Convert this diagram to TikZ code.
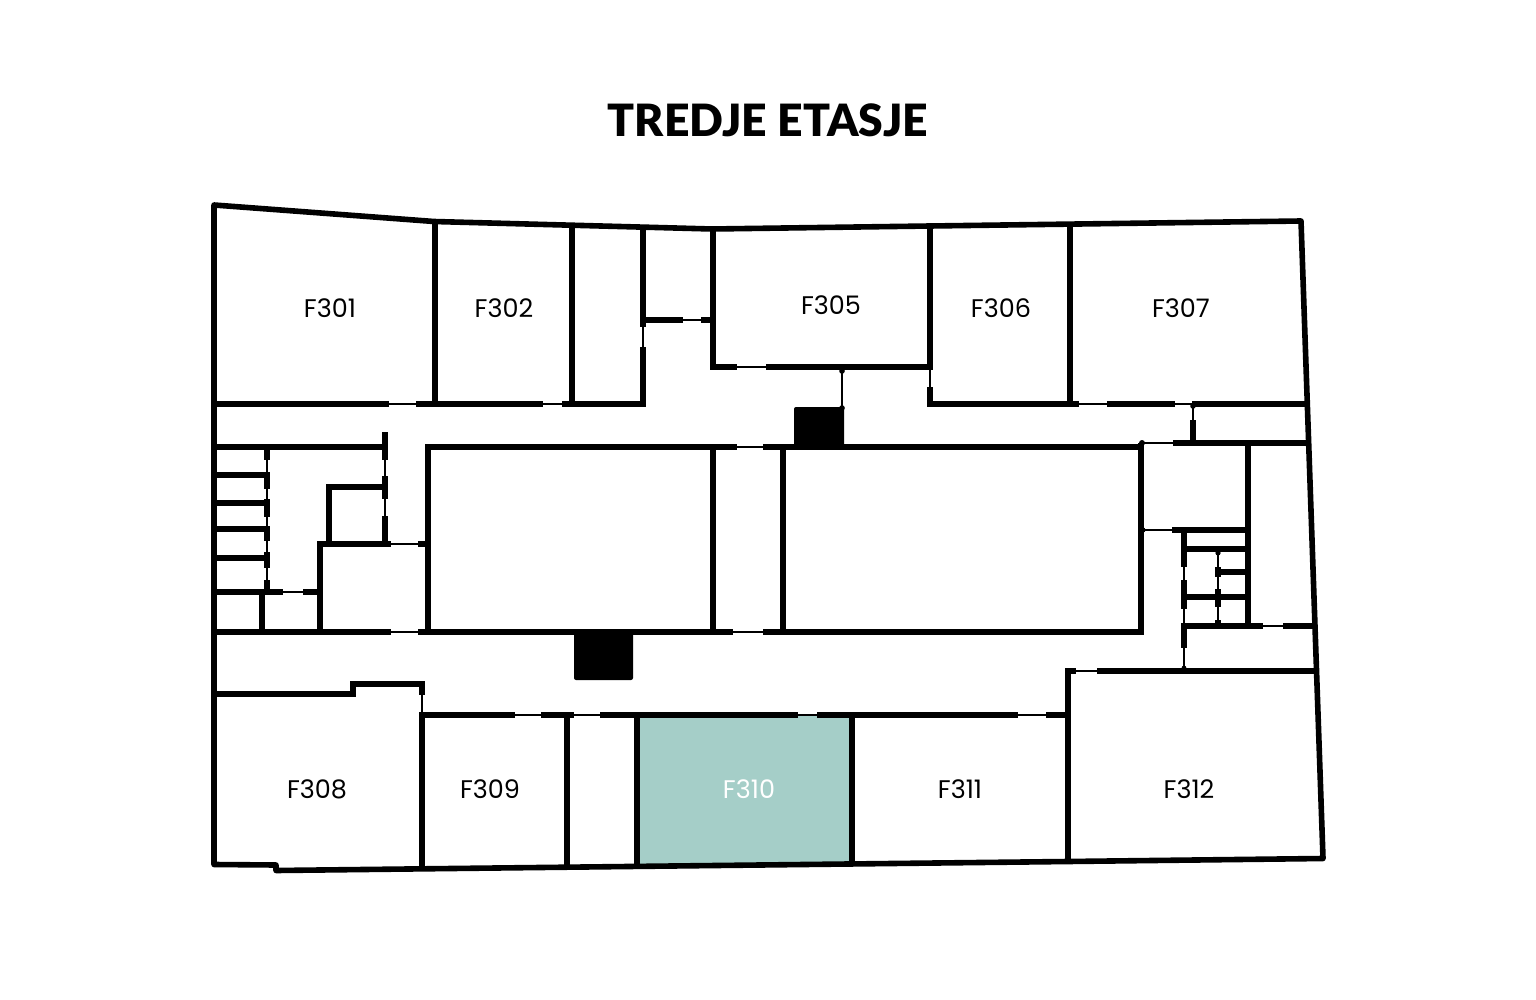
\documentclass[tikz,border=0pt]{standalone}
\usepackage{fontspec}
\setmainfont{Poppins}
\newfontfamily\titlefont{Lato Black}
\begin{document}
\begin{tikzpicture}[x=1pt,y=-1pt,
  wall/.style={line width=5.2pt,black,line cap=butt,line join=miter},
  shell/.style={line width=5.6pt,black,line join=round},
  stub/.style={line width=5.6pt,black,line cap=butt},
  door/.style={line width=2pt,black,line cap=butt},
  knob/.style={fill=black},
  block/.style={fill=black,rounded corners=2pt},
  room/.style={font=\fontsize{25.5}{27}\selectfont,inner sep=0pt,anchor=center},
  title/.style={font=\titlefont\fontsize{44.5}{50}\selectfont,inner sep=0pt,anchor=center}]
\useasboundingbox (0,0) rectangle (1536,1000);
\fill[white] (0,0) rectangle (1536,1000);
\fill[fill={rgb,255:red,165;green,206;blue,200}] (637,715) -- (852,715) -- (852,864) -- (637,866) -- cycle;
% black blocks
\fill[block] (794,447) -- (794,407) -- (844,407) -- (844,447) -- cycle;
\fill[block] (574,632) -- (574,680) -- (633,680) -- (633,632) -- cycle;
% outer shell
\draw[shell] (214,205) -- (434,221.5) -- (712,229) -- (930,226) -- (1301,221) -- (1323,858.5) -- (1068,861.5) -- (276,870.5) -- (276,865) -- (214,864.5) -- cycle;
% top band
\draw[wall] (435,222) -- (435,404);
\draw[wall] (572,227) -- (572,404);
\draw[wall] (214,404) -- (389,404) (416,404) -- (543,404) (562,404) -- (640.6,404);
\draw[door] (389,404) -- (416,404) (543,404) -- (562,404);
\draw[wall] (643,229) -- (643,327) (643,347) -- (643,406.6);
\draw[door] (643,327) -- (643,347);
\draw[wall] (643,320) -- (683,320) (701,320) -- (713,320);
\draw[door] (683,320) -- (701,320);
\draw[wall] (713,229) -- (713,367) -- (737,367) (766,367) -- (930,367);
\draw[door] (737,367) -- (766,367);
\draw[wall] (930,226) -- (930,370) (930,387) -- (930,404) -- (1079,404) (1107,404) -- (1175,404) (1192,404) -- (1307,404);
\draw[door] (930,370) -- (930,387) (1079,404) -- (1107,404) (1175,404) -- (1192,404);
\draw[wall] (1070,225) -- (1070,404);
\draw[door] (842,372) -- (842,406);
\fill[knob] (842,371) circle (2.8pt) (842,408) circle (2.8pt);
% core
\draw[wall] (428,632) -- (428,447) -- (737,447) (763,447) -- (1143.6,447);
\draw[door] (737,447) -- (763,447);
\draw[wall] (713,447) -- (713,632);
\draw[wall] (783,447) -- (783,632);
\draw[wall] (214,632) -- (391,632) (418,632) -- (733,632) (763,632) -- (1141,632) -- (1141,443);
\draw[door] (391,632) -- (418,632) (733,632) -- (763,632);
% left service block
\draw[wall] (214,447) -- (385,447);
\draw[stub] (385,432) -- (385,460) (385,476) -- (385,499) (385,516) -- (385,544);
\draw[door] (385,460) -- (385,476) (385,499) -- (385,516);
\draw[wall] (385,487) -- (329,487) -- (329,544);
\draw[wall] (320,632) -- (320,544) -- (391,544) (418,544) -- (428,544);
\draw[door] (391,544) -- (418,544);
\draw[stub] (267,447) -- (267,460) (267,472) -- (267,489) (267,499) -- (267,517) (267,526) -- (267,541) (267,552) -- (267,568) (267,580) -- (267,592);
\draw[door] (267,460) -- (267,472) (267,489) -- (267,499) (267,517) -- (267,526) (267,541) -- (267,552) (267,568) -- (267,580);
\draw[wall] (214,475) -- (267,475) (214,503) -- (267,503) (214,529) -- (267,529) (214,558) -- (267,558);
\draw[wall] (214,592) -- (283,592) (303,592) -- (320,592);
\draw[door] (283,592) -- (303,592);
\draw[wall] (262,592) -- (262,632);
% right service block
\fill[knob] (1193,406) circle (2.8pt);
\draw[stub] (1193,420) -- (1193,443);
\draw[door] (1193,406) -- (1193,420);
\fill[knob] (1142,443) circle (3pt) (1143,530) circle (2.6pt);
\draw[wall] (1173,443) -- (1308,443);
\draw[door] (1142,443) -- (1173,443) (1142,530) -- (1172,530);
\draw[wall] (1248,441) -- (1248,626);
\draw[wall] (1172,530) -- (1250.6,530);
\draw[stub] (1184,530) -- (1184,567) (1184,580) -- (1184,609) (1184,626) -- (1184,648);
\draw[door] (1184,567) -- (1184,580) (1184,609) -- (1184,626) (1184,648) -- (1184,668);
\fill[knob] (1184,668) circle (2.4pt);
\draw[wall] (1184,549) -- (1248,549) (1184,597) -- (1248,597) (1218,572) -- (1248,572);
\draw[wall] (1181.4,626) -- (1263,626) (1283,626) -- (1314,626);
\draw[door] (1263,626) -- (1283,626);
\fill[knob] (1218,553) circle (2.6pt);
\draw[stub] (1218,567) -- (1218,577) (1218,589) -- (1218,607) (1218,620) -- (1218,626);
\draw[door] (1218,553) -- (1218,567) (1218,577) -- (1218,589) (1218,607) -- (1218,620);
\draw[wall] (1068,861) -- (1068,671) -- (1076,671) (1097,671) -- (1316,671);
\draw[door] (1076,671) -- (1097,671);
% lower band
\draw[wall] (214,694) -- (353,694) -- (353,684) -- (422,684) -- (422,695);
\draw[door] (422,695) -- (422,714);
\draw[wall] (422,713) -- (422,868);
\draw[wall] (419.4,715) -- (515,715) (541,715) -- (574,715) (600,715) -- (798,715) (817,715) -- (1018,715) (1046,715) -- (1068,715);
\draw[door] (515,715) -- (541,715) (574,715) -- (600,715) (798,715) -- (817,715) (1018,715) -- (1046,715);
\draw[wall] (567,715) -- (567,867);
\draw[wall] (637,715) -- (637,866);
\draw[wall] (852,715) -- (852,864);
% labels
\node[title] (ttl) at (768,120) {TREDJE ETASJE};
\node[room] (r301) at (330,308) {F301};
\node[room] (r302) at (504,308) {F302};
\node[room] (r305) at (831,305) {F305};
\node[room] (r306) at (1001,308) {F306};
\node[room] (r307) at (1181,308) {F307};
\node[room] (r308) at (317,789) {F308};
\node[room] (r309) at (490,789) {F309};
\node[room,text=white] (r310) at (749,789) {F310};
\node[room] (r311) at (960,789) {F311};
\node[room] (r312) at (1189,789) {F312};
\end{tikzpicture}
\end{document}
